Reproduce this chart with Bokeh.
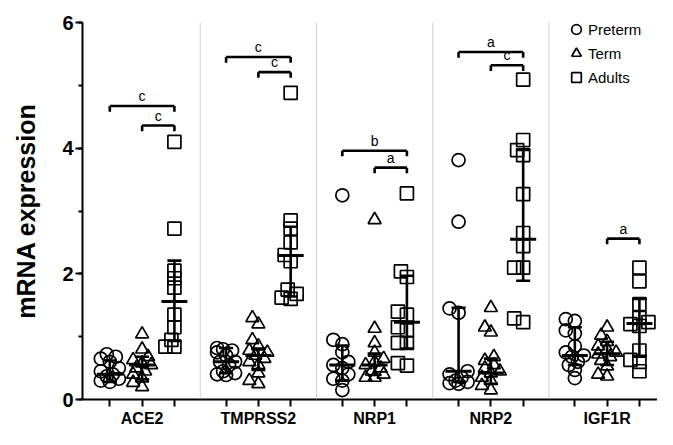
import math
from bokeh.plotting import figure
from bokeh.models import (Range1d, FixedTicker, SingleIntervalTicker, Span, Legend, LegendItem)
from bokeh.core.properties import value
from bokeh.embed import file_html
from bokeh.resources import INLINE

genes = ["ACE2", "TMPRSS2", "NRP1", "NRP2", "IGF1R"]
groups = ["Preterm", "Term", "Adults"]

preterm = [
    [0.72, 0.68, 0.65, 0.6, 0.5, 0.45, 0.4, 0.37, 0.33, 0.3, 0.28],
    [0.82, 0.8, 0.78, 0.75, 0.7, 0.6, 0.6, 0.55, 0.45, 0.42, 0.4, 0.39],
    [3.25, 0.95, 0.88, 0.75, 0.6, 0.55, 0.5, 0.4, 0.33, 0.3, 0.15],
    [3.81, 2.83, 1.45, 1.38, 0.45, 0.4, 0.35, 0.3, 0.28, 0.26, 0.25],
    [1.28, 1.25, 1.1, 1.05, 0.85, 0.75, 0.7, 0.68, 0.6, 0.55, 0.47, 0.34],
]
term = [
    [1.04, 0.8, 0.68, 0.63, 0.58, 0.55, 0.5, 0.45, 0.4, 0.34, 0.27, 0.2],
    [1.3, 1.2, 0.95, 0.85, 0.78, 0.75, 0.7, 0.65, 0.6, 0.55, 0.42, 0.3, 0.25],
    [2.86, 1.13, 0.9, 0.75, 0.65, 0.6, 0.55, 0.5, 0.45, 0.4, 0.35, 0.35],
    [1.46, 1.15, 1.07, 0.68, 0.62, 0.55, 0.5, 0.45, 0.42, 0.35, 0.3, 0.22, 0.15],
    [1.15, 1.02, 0.92, 0.85, 0.8, 0.75, 0.72, 0.68, 0.62, 0.53, 0.4, 0.37],
]
adults = [
    [4.1, 2.72, 2.05, 1.93, 1.78, 1.35, 1.15, 0.95, 0.84, 0.84],
    [4.88, 2.85, 2.72, 2.5, 2.3, 2.2, 1.75, 1.68, 1.62, 1.6],
    [3.28, 2.04, 1.95, 1.4, 1.35, 1.15, 1.1, 0.9, 0.9, 0.58, 0.54],
    [5.09, 4.13, 3.97, 3.89, 3.27, 2.65, 2.44, 2.1, 2.1, 1.29, 1.23],
    [2.1, 1.88, 1.52, 1.3, 1.23, 1.17, 1.2, 0.78, 0.63, 0.6, 0.45],
]
# median and interquartile range per gene: [preterm, term, adults]
medians = [[0.40, 0.55, 1.56], [0.60, 0.70, 2.29], [0.55, 0.55, 1.23], [0.45, 0.42, 2.55], [0.70, 0.73, 1.21]]
q1s = [[0.28, 0.32, 0.93], [0.42, 0.47, 1.64], [0.30, 0.39, 0.81], [0.28, 0.25, 1.89], [0.55, 0.55, 0.68]]
q3s = [[0.62, 0.68, 2.21], [0.82, 0.81, 2.75], [0.86, 0.73, 1.97], [1.46, 0.65, 3.97], [1.15, 0.92, 1.60]]
# significance brackets: gene index, from group, to group, height, label
br_gene = [0, 0, 1, 1, 2, 2, 3, 3, 4]
br_from = [0, 1, 0, 1, 0, 1, 0, 1, 1]
br_to = [2, 2, 2, 2, 2, 2, 2, 2, 2]
br_y = [4.67, 4.36, 5.45, 5.21, 3.96, 3.69, 5.53, 5.32, 2.56]
br_label = ["c", "c", "c", "c", "b", "a", "a", "c", "a"]

# layout
SUB = 5      # spacing between groups within gene
GENE = 18    # spacing between genes
W, H = 657, 429
BL, BR, BT, BB = 82, 0, 22, 29
x0, x1 = -4.23, 84.8
y0, y1 = 0, 6
px_x = (W - BL - BR) / (x1 - x0)
px_y = (H - BT - BB) / (y1 - y0)

def pos(g, k):
    return g * GENE + k * SUB

def swarm(vals, d=7.5, step=3.0, maxoff=10):
    cands = [0.0]
    k = 1
    while k * step <= maxoff:
        cands += [-k * step, k * step]
        k += 1
    placed = []
    offs = [0.0] * len(vals)
    order = sorted(range(len(vals)), key=lambda i: vals[i])
    for i in order:
        yp = vals[i] * px_y
        best, bestd = 0.0, -1
        for c in cands:
            md = min((math.hypot(c - a, yp - b) for a, b in placed), default=1e9)
            if md >= d:
                best = c
                break
            if md > bestd:
                bestd, best = md, c
        offs[i] = best
        placed.append((best, yp))
    return [o / px_x for o in offs]

p = figure(width=W, height=H, output_backend="svg", toolbar_location=None,
           x_range=Range1d(x0, x1), y_range=Range1d(y0, y1),
           min_border_left=BL, min_border_right=BR, min_border_top=BT, min_border_bottom=BB)
p.outline_line_color = None
p.xgrid.visible = False
p.ygrid.visible = False

FONT = "Liberation Sans"

# dividers
for g in range(len(genes) - 1):
    p.add_layout(Span(location=(pos(g, 2) + pos(g + 1, 0)) / 2, dimension="height",
                      line_color="#a0a0a0", line_width=1, line_dash="1 1"))

markers = ["circle", "triangle", "square"]
series = [preterm, term, adults]
renderers = []
for k, data in enumerate(series):
    xs, ys = [], []
    for g in range(len(genes)):
        offs = swarm(data[g])
        xs += [pos(g, k) + o for o in offs]
        ys += data[g]
    r = p.scatter(xs, ys, marker=markers[k], size=13, fill_alpha=0,
                  line_color="black", line_width=1.7)
    renderers.append(r)

# median + IQR
ex, elo, ehi, emed = [], [], [], []
for g in range(len(genes)):
    for k in range(3):
        ex.append(pos(g, k))
        elo.append(q1s[g][k])
        ehi.append(q3s[g][k])
        emed.append(medians[g][k])
p.segment(ex, elo, ex, ehi, line_color="black", line_width=2.6)
p.scatter(ex, emed, marker="dash", size=26, line_color="black", line_width=3)
p.scatter(ex + ex, elo + ehi, marker="dash", size=14, line_color="black", line_width=2.6)

# brackets
tip = 0.09
bx0 = [pos(g, a) for g, a in zip(br_gene, br_from)]
bx1 = [pos(g, b) for g, b in zip(br_gene, br_to)]
p.segment(bx0, br_y, bx1, br_y, line_color="black", line_width=2.6)
p.segment(bx0, br_y, bx0, [y - tip for y in br_y], line_color="black", line_width=2.6)
p.segment(bx1, br_y, bx1, [y - tip for y in br_y], line_color="black", line_width=2.6)
p.text([(a + b) / 2 for a, b in zip(bx0, bx1)], br_y, text=br_label,
       text_font=value(FONT), text_font_size="14px", text_align="center",
       text_baseline="bottom", y_offset=-2, text_color="black")

# axes
for ax in (p.xaxis[0], p.yaxis[0]):
    ax.axis_line_color = "black"
    ax.major_tick_line_color = "black"
    ax.minor_tick_line_color = "black"
    ax.major_label_text_color = "black"
    ax.axis_label_text_color = "black"
    ax.axis_line_width = 2
    ax.major_tick_line_width = 2
    ax.minor_tick_line_width = 2
    ax.major_label_text_font = FONT
    ax.major_label_text_font_style = "bold"

xa = p.xaxis[0]
xa.ticker = FixedTicker(ticks=[pos(g, k) for g in range(len(genes)) for k in range(3)])
xa.major_label_overrides = {pos(g, k): (genes[g] if k == 1 else "") for g in range(len(genes)) for k in range(3)}
xa.major_label_text_font_size = "16px"
xa.major_label_standoff = 3
xa.major_tick_in = 0
xa.major_tick_out = 7
xa.minor_tick_line_color = None

ya = p.yaxis[0]
ya.ticker = SingleIntervalTicker(interval=2, num_minor_ticks=2)
ya.axis_label = "mRNA expression"
ya.axis_label_text_font = FONT
ya.axis_label_text_font_style = "bold"
ya.axis_label_text_font_size = "25px"
ya.axis_label_standoff = 19
ya.major_label_text_font_size = "20px"
ya.major_label_standoff = 2
ya.major_tick_in = 0
ya.major_tick_out = 7
ya.minor_tick_in = 0
ya.minor_tick_out = 4

legend = Legend(items=[LegendItem(label=groups[k], renderers=[renderers[k]]) for k in range(3)],
                location=(482, 310), orientation="vertical",
                glyph_width=24, glyph_height=24, spacing=0, padding=0, margin=0,
                label_standoff=-4, label_text_font=FONT, label_text_font_size="15px",
                label_text_color="black",
                border_line_color=None, background_fill_alpha=0)
p.add_layout(legend)

open("out.html", "w").write(file_html(p, INLINE))
